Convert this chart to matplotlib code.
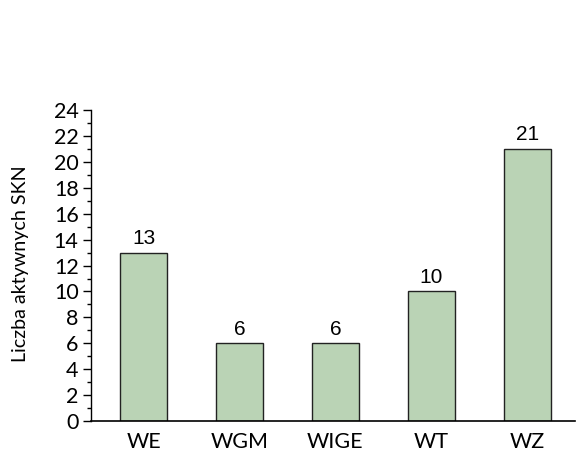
import matplotlib
matplotlib.use("Agg")
import matplotlib.pyplot as plt
from matplotlib.ticker import MultipleLocator

categories = ["WE", "WGM", "WIGE", "WT", "WZ"]
values = [13, 6, 6, 10, 21]
ylabel = "Liczba aktywnych SKN"

plt.rcParams['font.family'] = ['Lato', 'DejaVu Sans']

fig = plt.figure(figsize=(5.77, 4.53), dpi=100)
ax = fig.add_axes([0.158, 0.0706, 0.8385, 0.6864])

x = list(range(len(categories)))
bars = ax.bar(x, values, width=0.49, color="#bad3b5", edgecolor="#222222", linewidth=1.0)
for xi, v in zip(x, values):
    ax.text(xi, v + 0.35, str(v), ha="center", va="bottom", fontsize=15,
            family=["Liberation Sans", "DejaVu Sans"])

ax.set_xlim(-0.55, 4.5)
ax.set_ylim(0, 24)
ax.yaxis.set_major_locator(MultipleLocator(2))
ax.yaxis.set_minor_locator(MultipleLocator(1))
ax.set_xticks(x)
ax.set_xticklabels(categories, fontsize=15.5)
ax.tick_params(axis="x", length=0, pad=8)
ax.tick_params(axis="y", which="major", length=6, width=1, labelsize=15.5, pad=3)
ax.tick_params(axis="y", which="minor", length=3, width=1)
ax.spines["top"].set_visible(False)
ax.spines["right"].set_visible(False)
ax.spines["left"].set_linewidth(1)
ax.spines["bottom"].set_linewidth(1.2)
ax.set_ylabel(ylabel, fontsize=14.2, va="center")
ax.yaxis.set_label_coords(21 / 577, 1 - 263.5 / 453, transform=fig.transFigure)

fig.savefig("out.png", dpi=100)
